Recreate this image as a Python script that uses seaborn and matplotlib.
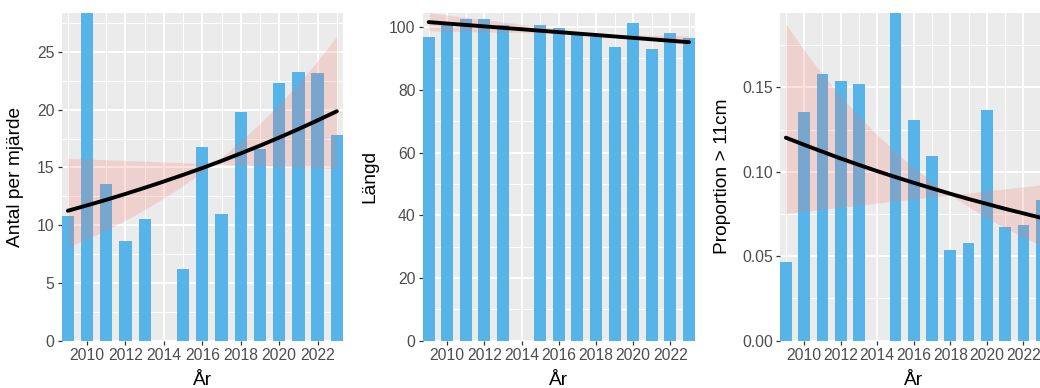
import numpy as np
import pandas as pd
import matplotlib
matplotlib.use("Agg")
import matplotlib.pyplot as plt
from matplotlib.ticker import MultipleLocator, FixedLocator
import seaborn as sns

# ---------------- data ----------------
years = [2009, 2010, 2011, 2012, 2013, 2015, 2016, 2017, 2018, 2019, 2020, 2021, 2022, 2023]
antal = [10.8, 28.4, 13.6, 8.6, 10.5, 6.2, 16.8, 11.0, 19.8, 16.6, 22.3, 23.3, 23.2, 17.8]
langd = [97.0, 100.6, 102.7, 102.7, 100.8, 100.8, 99.7, 97.4, 96.8, 93.7, 101.4, 93.1, 98.2, 96.4]
prop = [0.0468, 0.1356, 0.1580, 0.1536, 0.1522, 0.1942, 0.1307, 0.1093, 0.0537, 0.0580,
        0.1364, 0.0675, 0.0685, 0.0833]

fit_years = list(range(2009, 2024))
antal_fit = [11.25, 11.72, 12.20, 12.71, 13.24, 13.79, 14.36, 14.95, 15.57, 16.22, 16.89,
             17.59, 18.32, 19.08, 19.87]
antal_band_a = [8.1, 8.81, 9.59, 10.43, 11.35, 12.35, 13.43, 14.61, 15.9, 17.3, 18.82,
                20.47, 22.27, 24.23, 26.36]
antal_band_b = [15.8, 15.74, 15.67, 15.61, 15.54, 15.48, 15.41, 15.35, 15.29, 15.22, 15.16,
                15.09, 15.03, 14.96, 14.9]

langd_fit = [101.6, 101.14, 100.69, 100.23, 99.77, 99.32, 98.86, 98.40, 97.94, 97.49,
             97.03, 96.57, 96.11, 95.66, 95.2]
langd_band_a = [104.6, 103.86, 103.13, 102.39, 101.66, 100.92, 100.19, 99.45, 98.71, 97.98,
                97.24, 96.51, 95.77, 95.04, 94.3]
langd_band_b = [98.8, 98.69, 98.57, 98.46, 98.34, 98.23, 98.11, 98.0, 97.89, 97.77, 97.66,
                97.54, 97.43, 97.31, 97.2]

prop_fit = [0.1202, 0.1160, 0.1119, 0.1079, 0.1041, 0.1004, 0.0969, 0.0935, 0.0902, 0.0870,
            0.0839, 0.0810, 0.0781, 0.0754, 0.0727]
prop_band_a = [0.1875, 0.1720, 0.1578, 0.1448, 0.1329, 0.1219, 0.1118, 0.1026, 0.0942,
               0.0864, 0.0793, 0.0727, 0.0667, 0.0612, 0.0562]
prop_band_b = [0.0754, 0.0766, 0.0778, 0.0790, 0.0802, 0.0815, 0.0827, 0.0839, 0.0851,
               0.0863, 0.0875, 0.0887, 0.0899, 0.0911, 0.0923]

x_ticks = [2010, 2012, 2014, 2016, 2018, 2020, 2022]
y_labels = ["Antal per mjärde", "Längd", "Proportion > 11cm"]
x_label = "År"

# ---------------- style ----------------
sns.set_theme(style="darkgrid")
plt.rcParams["font.family"] = ["Liberation Sans", "DejaVu Sans"]
plt.rcParams["axes.facecolor"] = "#EBEBEB"
plt.rcParams["figure.facecolor"] = "white"

W, H = 1040, 388
fig = plt.figure(figsize=(W / 100, H / 100), dpi=100)

BAR = "#56B4E9"
RIB = "#F8766D"

panels = [
    dict(left=61.7, right=343.0, vals=antal, fit=antal_fit, ba=antal_band_a, bb=antal_band_b,
         ylim=(0, 28.4), major=5, fmt=lambda v, p: f"{v:g}", ylab_x=24.0),
    dict(left=422.7, right=695.0, vals=langd, fit=langd_fit, ba=langd_band_a, bb=langd_band_b,
         ylim=(0, 104.6), major=20, fmt=lambda v, p: f"{v:g}", ylab_x=378.0),
    dict(left=780.0, right=1047.5, vals=prop, fit=prop_fit, ba=prop_band_a, bb=prop_band_b,
         ylim=(0, 0.1942), major=0.05, fmt=lambda v, p: f"{v:.2f}", ylab_x=731.0),
]

top_px, bot_px = 12.7, 340.7

for i, p in enumerate(panels):
    ax = fig.add_axes([p["left"] / W, 1 - bot_px / H, (p["right"] - p["left"]) / W,
                       (bot_px - top_px) / H])
    df = pd.DataFrame({"year": years, "value": p["vals"]})
    sns.barplot(data=df, x="year", y="value", native_scale=True, width=0.64, color=BAR,
                saturation=1, errorbar=None, ax=ax, zorder=2, linewidth=0, edgecolor="none")
    ax.fill_between(fit_years, p["ba"], p["bb"], color=RIB, alpha=0.22, lw=0, zorder=3)
    sns.lineplot(x=fit_years, y=p["fit"], color="black", lw=2.8, ax=ax, zorder=4)

    ax.set_xlim(2008.68, 2023.32)
    ax.set_ylim(*p["ylim"])
    ax.xaxis.set_major_locator(FixedLocator(x_ticks))
    ax.xaxis.set_minor_locator(FixedLocator(list(range(2009, 2024, 2))))
    ax.yaxis.set_major_locator(MultipleLocator(p["major"]))
    ax.yaxis.set_minor_locator(MultipleLocator(p["major"] / 2))
    ax.yaxis.set_major_formatter(matplotlib.ticker.FuncFormatter(p["fmt"]))
    ax.set_xticklabels([str(t) for t in x_ticks])

    ax.grid(which="major", color="white", lw=1.4)
    ax.grid(which="minor", color="white", lw=0.7)
    ax.set_axisbelow(True)
    for s in ax.spines.values():
        s.set_visible(False)
    ax.tick_params(which="major", length=3.2, width=0.9, color="#333333", pad=2,
                   labelsize=11.3, labelcolor="#4D4D4D", bottom=True, left=True)
    ax.tick_params(which="minor", length=0, bottom=False, left=False)

    ax.set_xlabel(x_label, fontsize=13.8, color="black")
    ax.set_ylabel(y_labels[i], fontsize=13.8, color="black")
    ax.xaxis.set_label_coords(0.5, -0.095)
    axw = p["right"] - p["left"]
    ax.yaxis.set_label_coords((p["ylab_x"] - p["left"]) / axw, 0.5)
    leg = ax.get_legend()
    if leg is not None:
        leg.remove()

fig.savefig("out.png", dpi=100)
